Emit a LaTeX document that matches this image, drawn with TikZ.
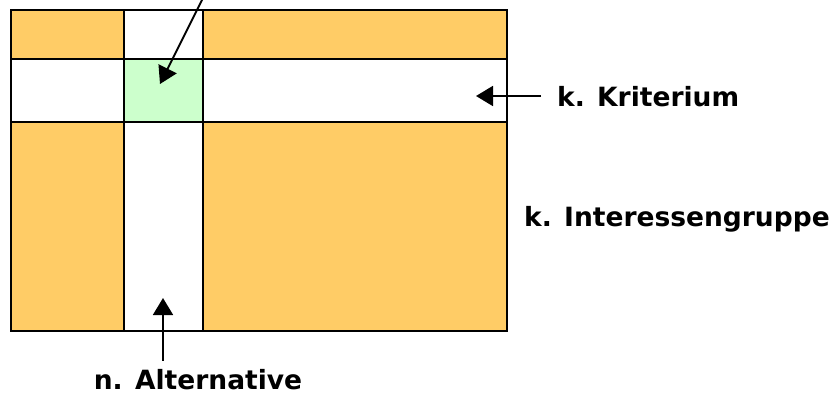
\documentclass[tikz,border=0pt]{standalone}
\usepackage{fontspec}
\setmainfont{DejaVu Sans}
\usetikzlibrary{arrows.meta, positioning}

\definecolor{gruppe}{HTML}{FFCC66}
\definecolor{feld}{HTML}{CCFFCC}

\begin{document}
\begin{tikzpicture}[
  x=1pt, y=-1pt,
  >={Triangle[length=17pt, width=20pt]},
  grid/.style  = {draw, line width=2.2pt},
  pfeil/.style = {->, line width=1.8pt},
  label/.style = {font=\fontsize{26.5}{30}\selectfont\bfseries, inner sep=0pt},
]
  \useasboundingbox (0,0) rectangle (838,397);

  % Interessengruppen
  \fill[gruppe] (11,10)  rectangle (124,59);
  \fill[gruppe] (203,10) rectangle (507,59);
  \fill[gruppe] (11,122) rectangle (124,331);
  \fill[gruppe] (203,122) rectangle (507,331);
  % Bewertung
  \fill[feld] (124,59) rectangle (203,122);

  \draw[grid] (11,10) rectangle (507,331);
  \draw[grid] (124,10) -- (124,331);
  \draw[grid] (203,10) -- (203,331);
  \draw[grid] (11,59)  -- (507,59);
  \draw[grid] (11,122) -- (507,122);

  \coordinate (top)  at (206,-8);
  \coordinate (cell) at (160,84);
  \coordinate (krit) at (476,96);
  \coordinate (alt)  at (163,298);

  \node[label, anchor=base west] (kriterium)   at (557,106) {k. Kriterium};
  \node[label, anchor=base west] (gruppe)      at (524,226) {k. Interessengruppe};
  \node[label, anchor=base]      (alternative) at (198,389) {n. Alternative};

  \draw[pfeil] (top) -- (cell);
  \draw[pfeil] (kriterium.west |- krit) ++(-16pt,0) -- (krit);
  \draw[pfeil] (alternative.north -| alt) ++(0,8pt) -- (alt);
\end{tikzpicture}
\end{document}
